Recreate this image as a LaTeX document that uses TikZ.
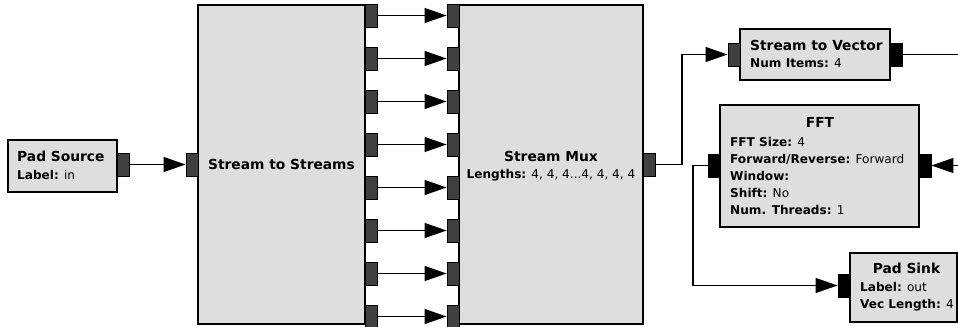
\documentclass[tikz,border=0pt]{standalone}
\usepackage{fontspec}
\setmainfont{DejaVu Sans}
\usetikzlibrary{arrows.meta}
\definecolor{boxfill}{HTML}{DEDEDE}
\definecolor{portfill}{HTML}{404040}
\newcommand{\blkttl}{\fontsize{13.8bp}{16bp}\selectfont\bfseries}
\newcommand{\blkprm}{\fontsize{12.1bp}{14bp}\selectfont}
\begin{document}
\begin{tikzpicture}[x=1bp,y=-1bp,
  blk/.style={draw=black, line width=1.4bp, fill=boxfill, rectangle, inner sep=0pt},
  port/.style={draw=black, line width=0.9bp, fill=portfill, rectangle, inner sep=0pt, minimum width=12bp, minimum height=23bp},
  vport/.style={port, fill=black},
  wire/.style={draw=black, line width=1.2bp},
  arr/.style={wire, -{Triangle[length=22bp,width=15bp]}},
  ttlnode/.style={inner sep=0pt, font=\blkttl, anchor=base},
  ttlwest/.style={inner sep=0pt, font=\blkttl, anchor=base west},
  prmnode/.style={inner sep=0pt, font=\blkprm, anchor=base west}]
\fill[white] (0,0) rectangle (958,326);
\useasboundingbox (0,0) rectangle (958,326);

% blocks
\node[blk, minimum width=109bp, minimum height=52bp] (padsrc) at (62.5,166) {};
\node[blk, minimum width=167bp, minimum height=319bp] (sts) at (281.5,164.5) {};
\node[blk, minimum width=184bp, minimum height=319bp] (mux) at (551,164.5) {};
\node[blk, minimum width=150bp, minimum height=51bp] (stv) at (815,54.5) {};
\node[blk, minimum width=199bp, minimum height=122bp] (fft) at (819.5,166) {};
\node[blk, minimum width=107bp, minimum height=69bp] (padsink) at (903.5,287.5) {};

% texts
\node[ttlwest] (padsrc-t) at (17,161) {Pad Source};
\node[prmnode] (padsrc-p1) at (17,179) {\textbf{Label:} in};

\node[ttlnode] (sts-t) at (281.5,169.5) {Stream to Streams};

\node[ttlnode] (mux-t) at (551,161) {Stream Mux};
\node[ttlnode, font=\blkprm] (mux-p1) at (551,178) {\textbf{Lengths:} 4, 4, 4...4, 4, 4, 4};

\node[ttlwest] (stv-t) at (750,50) {Stream to Vector};
\node[prmnode] (stv-p1) at (750,67.5) {\textbf{Num Items:} 4};

\node[ttlnode] (fft-t) at (820,127) {FFT};
\node[prmnode] (fft-p1) at (730,146) {\textbf{FFT Size:} 4};
\node[prmnode] (fft-p2) at (730,163) {\textbf{Forward/Reverse:} Forward};
\node[prmnode] (fft-p3) at (730,180) {\textbf{Window:}};
\node[prmnode] (fft-p4) at (730,197) {\textbf{Shift:} No};
\node[prmnode] (fft-p5) at (730,214) {\textbf{Num. Threads:} 1};

\node[ttlnode] (padsink-t) at (906.5,273) {Pad Sink};
\node[prmnode] (padsink-p1) at (860,291.5) {\textbf{Label:} out};
\node[prmnode] (padsink-p2) at (860,308.5) {\textbf{Vec Length:} 4};

% ports
\node[port] (padsrc-out) at (123,164.5) {};
\node[port] (sts-in) at (192,164.5) {};
\node[port] (mux-out) at (649,164.5) {};
\node[port] (stv-in) at (734,54.5) {};
\node[vport] (stv-out) at (896,54.5) {};
\node[vport] (fft-in) at (714,165.5) {};
\node[vport] (fft-out) at (925,165.5) {};
\node[vport] (padsink-in) at (844,285.5) {};

\coordinate (m1) at (682,0);
\coordinate (f1) at (693,0);
\coordinate (stvr) at (958,54.5);
\coordinate (fftr) at (958,165.5);

% connectors
\draw[arr] (padsrc-out.east) -- (sts-in.west);
\foreach \i in {0,...,7} {
  \node[port] (sts-o\i) at (371,{15.5+43*\i}) {};
  \node[port] (mux-i\i) at (453,{15.5+43*\i}) {};
  \draw[arr] (sts-o\i.east) -- (mux-i\i.west);
}
\draw[arr] (mux-out.east) -| (m1 |- stv-in.west) -- (stv-in.west);
\draw[wire] (stv-out.east) -- (stvr);
\draw[arr] (fftr) -- (fft-out.east);
\draw[arr] (fft-in.west) -| (f1 |- padsink-in.west) -- (padsink-in.west);
\end{tikzpicture}
\end{document}
